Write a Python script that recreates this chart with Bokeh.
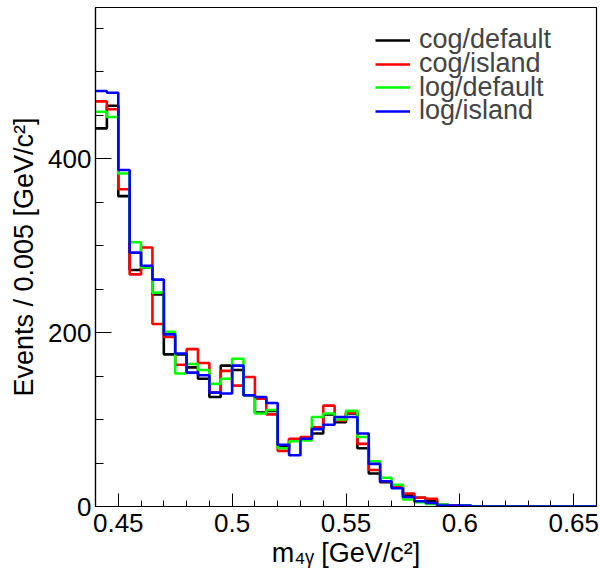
import numpy as np
from bokeh.plotting import figure
from bokeh.models import FixedTicker, Legend, LegendItem, Range1d
from bokeh.embed import file_html
from bokeh.resources import INLINE

# ---- data (events per 0.005 GeV/c^2 bin, starting at 0.44) ----
bin_low = 0.44
bin_width = 0.005
cog_default = [435, 461, 357, 272, 275, 244, 175, 175, 160, 147, 126, 162, 157, 128, 108, 110,
               68, 77, 78, 84, 106, 97, 107, 67, 38, 28, 23, 13, 10, 6, 2, 0,
               0, 0, 0, 0, 0, 0, 0, 0, 0, 0, 0, 0]
cog_island = [466, 457, 365, 267, 298, 210, 195, 163, 181, 165, 131, 156, 139, 149, 124, 106,
              64, 78, 80, 91, 116, 99, 108, 72, 42, 29, 24, 15, 10, 9, 0, 1,
              0, 0, 0, 0, 0, 0, 0, 0, 0, 0, 0, 0]
log_default = [454, 448, 383, 304, 275, 246, 201, 153, 164, 157, 141, 147, 170, 128, 107, 111,
               67, 75, 76, 103, 107, 100, 110, 80, 52, 33, 25, 8, 5, 3, 2, 0,
               1, 0, 0, 0, 0, 0, 0, 0, 0, 0, 0, 0]
log_island = [478, 476, 387, 292, 277, 261, 198, 176, 154, 151, 131, 130, 162, 128, 126, 119,
              71, 59, 78, 89, 94, 103, 103, 84, 49, 29, 21, 11, 6, 4, 1, 1,
              1, 0, 0, 0, 0, 0, 0, 0, 0, 0, 0, 0]
series_names = ["cog/default", "cog/island", "log/default", "log/island"]
series_colors = ["#000000", "#ff0000", "#00ff00", "#0000ff"]
x_major = [0.45, 0.5, 0.55, 0.6, 0.65]
y_major = [0, 200, 400]
x_title = "m\u2084\u1d67 [GeV/c\u00b2]"
y_title = "Events / 0.005 [GeV/c\u00b2]"

FONT = "Liberation Sans"

p = figure(width=600, height=573, output_backend="svg", toolbar_location=None,
           x_range=Range1d(0.44, 0.66), y_range=Range1d(0, 574),
           min_border_left=95, min_border_right=4, min_border_top=7, min_border_bottom=67,
           background_fill_color="white", border_fill_color="white")
p.xgrid.visible = False
p.ygrid.visible = False
p.outline_line_color = "black"
p.outline_line_width = 1.2

n = len(cog_default)
edges = bin_low + bin_width * np.arange(n + 1)

renderers = []
for vals, col in zip([cog_default, cog_island, log_default, log_island], series_colors):
    y = list(vals) + [vals[-1]]
    r = p.step(x=edges, y=y, mode="after", line_color=col, line_width=2.6)
    renderers.append(r)

# axes
xminor = [round(v, 3) for v in np.arange(0.44, 0.6601, 0.01)]
p.xaxis.ticker = FixedTicker(ticks=x_major, minor_ticks=xminor)
p.yaxis.ticker = FixedTicker(ticks=y_major, minor_ticks=list(range(0, 575, 50)))
p.xaxis.major_label_overrides = {0.45: "0.45", 0.5: "0.5", 0.55: "0.55", 0.6: "0.6", 0.65: "0.65"}
for ax in (p.xaxis[0], p.yaxis[0]):
    ax.axis_line_color = "black"
    ax.axis_line_width = 1.2
    ax.major_tick_line_color = "black"
    ax.minor_tick_line_color = "black"
    ax.major_tick_out = 0
    ax.minor_tick_out = 0
    ax.major_label_text_font = FONT
    ax.major_label_text_font_size = "26px"
    ax.major_label_text_color = "black"
    ax.axis_label_text_font = FONT
    ax.axis_label_text_font_size = "27px"
    ax.axis_label_text_font_style = "normal"
    ax.axis_label_text_color = "black"
p.xaxis.major_tick_in = 13
p.xaxis.minor_tick_in = 6
p.yaxis.major_tick_in = 16
p.yaxis.minor_tick_in = 8
p.xaxis.major_label_standoff = 7
p.yaxis.major_label_standoff = 4
p.xaxis.axis_label = x_title
p.yaxis.axis_label = y_title
p.xaxis.axis_label_standoff = 3
p.yaxis.axis_label_standoff = 6

# legend: one single-entry legend per row so the rows can sit close together
row_offsets = [451, 427, 403.5, 380]
for nm, r, yoff in zip(series_names, renderers, row_offsets):
    lg = Legend(items=[LegendItem(label=nm, renderers=[r])],
                location=(280, yoff), border_line_color=None, background_fill_alpha=0,
                label_text_font=FONT, label_text_font_size="27px",
                glyph_width=35, glyph_height=20, label_height=20, label_standoff=9,
                spacing=0, padding=0, margin=0)
    p.add_layout(lg)

open("out.html", "w").write(file_html(p, INLINE))
